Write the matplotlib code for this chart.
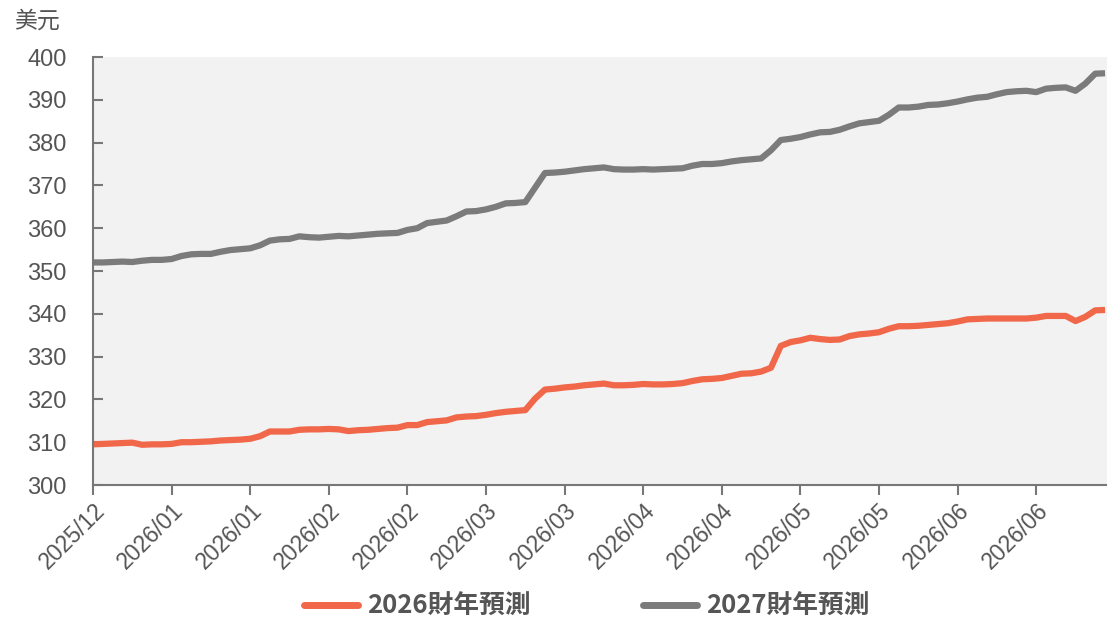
import matplotlib
matplotlib.use("Agg")
import matplotlib.pyplot as plt

# tick labels, one every 8 samples
tick_labels = ["2025/12", "2026/01", "2026/01", "2026/02", "2026/02", "2026/03", "2026/03",
               "2026/04", "2026/04", "2026/05", "2026/05", "2026/06", "2026/06"]
samples_per_tick = 8

fy2026 = [309.5, 309.6, 309.7, 309.8, 309.9, 309.4, 309.5, 309.5, 309.6, 310.0,
          310.0, 310.1, 310.2, 310.4, 310.5, 310.6, 310.8, 311.4, 312.5, 312.5,
          312.5, 312.9, 313.0, 313.0, 313.1, 313.0, 312.6, 312.8, 312.9, 313.1,
          313.3, 313.4, 314.0, 314.0, 314.7, 314.9, 315.1, 315.8, 316.0, 316.1,
          316.4, 316.8, 317.1, 317.3, 317.5, 320.2, 322.3, 322.5, 322.8, 323.0,
          323.3, 323.5, 323.7, 323.3, 323.3, 323.4, 323.6, 323.5, 323.5, 323.6,
          323.8, 324.3, 324.7, 324.8, 325.0, 325.5, 326.0, 326.1, 326.5, 327.4,
          332.5, 333.4, 333.8, 334.4, 334.1, 333.9, 334.0, 334.8, 335.2, 335.4,
          335.7, 336.5, 337.1, 337.1, 337.2, 337.4, 337.6, 337.8, 338.2, 338.7,
          338.8, 338.9, 338.9, 338.9, 338.9, 338.9, 339.1, 339.5, 339.5, 339.5,
          338.3, 339.3, 340.8, 340.9]

fy2027 = [352.0, 352.0, 352.1, 352.2, 352.1, 352.4, 352.6, 352.6, 352.8, 353.5,
          353.9, 354.0, 354.0, 354.5, 354.9, 355.1, 355.3, 356.0, 357.1, 357.4,
          357.5, 358.1, 357.9, 357.8, 358.0, 358.2, 358.1, 358.3, 358.5, 358.7,
          358.8, 358.9, 359.6, 360.0, 361.2, 361.5, 361.8, 362.8, 363.9, 364.0,
          364.4, 365.0, 365.8, 365.9, 366.1, 369.5, 372.9, 373.0, 373.2, 373.5,
          373.8, 374.0, 374.2, 373.8, 373.7, 373.7, 373.8, 373.7, 373.8, 373.9,
          374.0, 374.6, 375.0, 375.0, 375.2, 375.6, 375.9, 376.1, 376.3, 378.2,
          380.6, 380.9, 381.3, 381.9, 382.4, 382.5, 383.0, 383.8, 384.5, 384.8,
          385.1, 386.5, 388.2, 388.2, 388.4, 388.8, 388.9, 389.2, 389.6, 390.1,
          390.5, 390.7, 391.3, 391.8, 392.0, 392.1, 391.8, 392.6, 392.8, 392.9,
          392.1, 393.8, 396.1, 396.2]

series_names = ["2026財年預測", "2027財年預測"]
colors = ["#F0674A", "#7B7B7B"]

text_color = "#555555"
num_font = ["Liberation Sans", "DejaVu Sans"]
cjk_font = ["Noto Sans CJK TC", "DejaVu Sans"]

fig = plt.figure(figsize=(11.07, 6.23), dpi=100)
ax = fig.add_axes([0.084, 0.2215, 0.916, 0.687])
ax.set_facecolor("#F2F2F2")

x = list(range(len(fy2026)))
for ys, name, c in zip([fy2026, fy2027], series_names, colors):
    ax.plot(x, ys, color=c, lw=4.5, solid_capstyle="butt", solid_joinstyle="round", label=name)

ax.set_xlim(0, 103.2)
ax.set_ylim(300, 400)
ax.set_yticks(range(300, 401, 10))
ax.set_xticks([i * samples_per_tick for i in range(len(tick_labels))])
ax.set_xticklabels(tick_labels, rotation=45, ha="right", rotation_mode="anchor")

for s in ["top", "right"]:
    ax.spines[s].set_visible(False)
for s in ["left", "bottom"]:
    ax.spines[s].set_color("#777777")
    ax.spines[s].set_linewidth(1.5)

ax.tick_params(axis="y", direction="in", length=7, width=1.5, color="#777777",
               labelsize=17, labelcolor=text_color, pad=19)
ax.tick_params(axis="x", direction="out", length=7, width=1.5, color="#777777",
               labelsize=16.5, labelcolor=text_color, pad=3)
for lab in ax.get_xticklabels() + ax.get_yticklabels():
    lab.set_family(num_font)

fig.text(0.013, 0.966, "美元", fontsize=16.5, color=text_color, family=cjk_font,
         ha="left", va="center")

leg = fig.legend(loc="center", bbox_to_anchor=(0.53, 0.026), ncol=2, frameon=False,
                 handlelength=2.1, handletextpad=0.35, columnspacing=4.4,
                 prop={"family": cjk_font, "size": 18.5, "weight": "bold"})
for t in leg.get_texts():
    t.set_color(text_color)
for h in leg.get_lines():
    h.set_linewidth(5)
    h.set_solid_capstyle("round")

fig.savefig("out.png", dpi=100)
